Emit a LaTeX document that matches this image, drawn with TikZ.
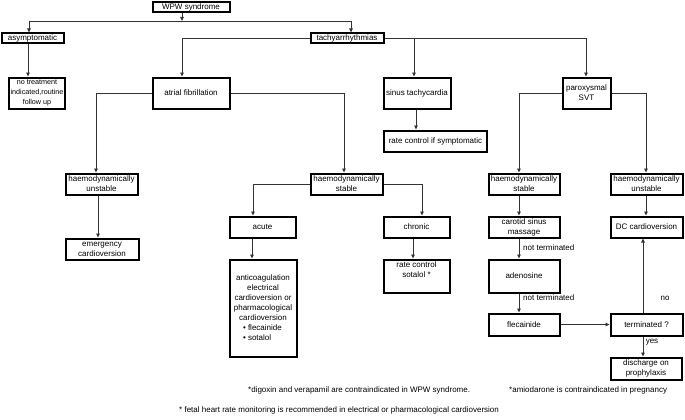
\documentclass[tikz,border=0pt]{standalone}
\usepackage{fontspec}
\setmainfont{Liberation Sans}
\usetikzlibrary{arrows.meta}
\begin{document}
\begin{tikzpicture}[x=1pt,y=-1pt,
  bx/.style={draw=black, line width=2pt, inner sep=0pt, align=center, font=\fontsize{8}{10}\selectfont},
  arr/.style={draw=black!80, line width=0.9pt, -{Triangle[length=4pt,width=3.5pt]}},
  lbl/.style={font=\fontsize{8}{10}\selectfont, inner sep=0pt, anchor=west},
  fn/.style={font=\fontsize{8}{9}\selectfont, inner sep=0pt, anchor=west}]
\useasboundingbox (0,0) rectangle (685,420);
% boxes
\node[bx, minimum width=77, minimum height=10.5] (wpw) at (191,7) {WPW syndrome};
\node[bx, minimum width=62, minimum height=10] (asym) at (32.5,38.5) {asymptomatic};
\node[bx, minimum width=73, minimum height=10] (tachy) at (347,38.5) {tachyarrhythmias};
\node[bx, minimum width=56, minimum height=31, font=\fontsize{7.2}{10}\selectfont] (notreat) at (37,93) {no treatment\\indicated,routine\\follow up};
\node[bx, minimum width=77, minimum height=31] (af) at (191,93) {atrial fibrillation};
\node[bx, minimum width=67, minimum height=31] (sinus) at (417,93) {sinus tachycardia};
\node[bx, minimum width=103, minimum height=21] (ratecontrol) at (435.5,141) {rate control if symptomatic};
\node[bx, minimum width=48, minimum height=31] (svt) at (586.5,93) {paroxysmal\\SVT};
\node[bx, minimum width=72, minimum height=21] (unst1) at (101.5,184) {haemodynamically\\unstable};
\node[bx, minimum width=73, minimum height=21] (emerg) at (102,249) {emergency\\cardioversion};
\node[bx, minimum width=72, minimum height=21] (stable1) at (346.5,184) {haemodynamically\\stable};
\node[bx, minimum width=66, minimum height=21] (acute) at (262.5,227) {acute};
\node[bx, minimum width=67, minimum height=97] (anticoag) at (263,308) {anticoagulation\\electrical\\cardioversion or\\pharmacological\\cardioversion\\\makebox[40pt][l]{\textbullet\ flecainide}\\\makebox[40pt][l]{\textbullet\ sotalol}};
\node[bx, minimum width=66, minimum height=21] (chronic) at (416.5,227) {chronic};
\node[bx, minimum width=66, minimum height=33] (ratesot) at (416.5,276) {rate control\\sotalol *\\\strut};
\node[bx, minimum width=71, minimum height=21] (stable2) at (524,184) {haemodynamically\\stable};
\node[bx, minimum width=71, minimum height=21] (carotid) at (524,227) {carotid sinus\\massage};
\node[bx, minimum width=71, minimum height=33] (adenosine) at (524,276) {adenosine};
\node[bx, minimum width=71, minimum height=22] (flec) at (524,324.5) {flecainide};
\node[bx, minimum width=72, minimum height=21] (unst2) at (646.5,184) {haemodynamically\\unstable};
\node[bx, minimum width=72, minimum height=21] (dc) at (646.5,227) {DC cardioversion};
\node[bx, minimum width=72, minimum height=22] (term) at (646.5,324.5) {terminated ?};
\node[bx, minimum width=71, minimum height=22] (discharge) at (646,368.5) {discharge on\\prophylaxis};
% labels
\node[lbl] (nt1) at (523,248) {not terminated};
\node[lbl] (nt2) at (523,298) {not terminated};
\node[lbl, anchor=center] (no) at (665,298) {no};
\node[lbl, anchor=center] (yes) at (652,342) {yes};
\node[fn] (f1) at (248,390) {*digoxin and verapamil are contraindicated in WPW syndrome.};
\node[fn] (f2) at (509,390) {*amiodarone is contraindicated in pregnancy};
\node[fn] (f3) at (179,410) {* fetal heart rate monitoring is recommended in electrical or pharmacological cardioversion};
% x guide coordinates
\foreach \v in {28,29,96,98,182,252,253,344,351,413,414,416,422,519,586,643,646}
  \coordinate (x\v) at (\v,0);
\coordinate (j0) at (182,21);
% connectors
\draw[arr] (wpw.south -| j0) -- (j0);
\draw[arr] (j0) -| (asym.north -| x29);
\draw[arr] (j0) -| (tachy.north -| x351);
\draw[arr] (asym.south -| x28) -- (notreat.north -| x28);
\draw[arr] (tachy.west) -| (af.north -| x182);
\draw[arr] (tachy.east) -| (svt.north -| x586);
\draw[arr] (tachy.east -| x414) -- (sinus.north -| x414);
\draw[arr] (sinus.south -| x416) -- (ratecontrol.north -| x416);
\draw[arr] (af.west) -| (unst1.north -| x96);
\draw[arr] (af.east) -| (stable1.north -| x344);
\draw[arr] (unst1.south -| x98) -- (emerg.north -| x98);
\draw[arr] (stable1.west) -| (acute.north -| x253);
\draw[arr] (acute.south -| x252) -- (anticoag.north -| x252);
\draw[arr] (stable1.east) -| (chronic.north -| x422);
\draw[arr] (chronic.south -| x413) -- (ratesot.north -| x413);
\draw[arr] (svt.west) -| (stable2.north -| x519);
\draw[arr] (svt.east) -| (unst2.north -| x646);
\draw[arr] (stable2.south -| x519) -- (carotid.north -| x519);
\draw[arr] (carotid.south -| x519) -- (adenosine.north -| x519);
\draw[arr] (adenosine.south -| x519) -- (flec.north -| x519);
\draw[arr] (unst2.south -| x646) -- (dc.north -| x646);
\draw[arr] (flec.east) -- (term.west);
\draw[arr] (term.north -| x643) -- (dc.south -| x643);
\draw[arr] (term.south -| x643) -- (discharge.north -| x643);
\end{tikzpicture}
\end{document}
